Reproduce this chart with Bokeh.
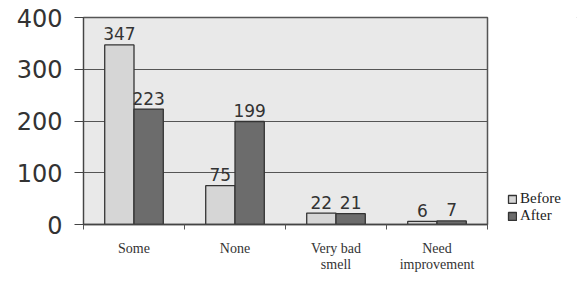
from bokeh.plotting import figure
from bokeh.layouts import row
from bokeh.models import ColumnDataSource, FixedTicker, Legend, LegendItem
from bokeh.core.properties import value
from bokeh.embed import file_html
from bokeh.resources import INLINE

categories = ["Some", "None", "Very bad\nsmell", "Need\nimprovement"]
before = [347, 75, 22, 6]
after = [223, 199, 21, 7]
series_names = ["Before", "After"]
y_ticks = [0, 100, 200, 300, 400]

before_fill = "#d6d6d6"
after_fill = "#6c6c6c"
bar_line = "#333333"

centers = [i + 0.5 for i in range(len(categories))]
bw = 0.29
src_b = ColumnDataSource(dict(x=[c - bw / 2 for c in centers], y=before, t=[str(v) for v in before]))
src_a = ColumnDataSource(dict(x=[c + bw / 2 for c in centers], y=after, t=[str(v) for v in after]))

p = figure(width=507, height=275, x_range=(0, 4), y_range=(0, 400),
           output_backend="svg", toolbar_location=None,
           min_border_left=83, min_border_top=17, min_border_right=20, min_border_bottom=43)
p.background_fill_color = "#e9e9e9"
p.border_fill_color = "white"
p.outline_line_color = "#555555"
p.outline_line_width = 1.5

p.vbar(x="x", top="y", width=bw, source=src_b, fill_color=before_fill, line_color=bar_line, line_width=1.3)
p.vbar(x="x", top="y", width=bw, source=src_a, fill_color=after_fill, line_color=bar_line, line_width=1.3)

for s in (src_b, src_a):
    p.text(x="x", y="y", text="t", source=s, text_align="center", text_baseline="alphabetic",
           y_offset=-11, text_font=value("DejaVu Sans"), text_font_size="17px", text_color="#333333")

p.xgrid.visible = False
p.ygrid.ticker = FixedTicker(ticks=y_ticks)
p.ygrid.grid_line_color = "#555555"
p.ygrid.grid_line_width = 1.2

p.yaxis.ticker = FixedTicker(ticks=y_ticks)
p.yaxis.major_label_text_font = "DejaVu Sans"
p.yaxis.major_label_text_font_size = "24px"
p.yaxis.major_label_text_color = "#333333"
p.yaxis.major_tick_out = 9
p.yaxis.major_tick_in = 0
p.yaxis.minor_tick_line_color = None
p.yaxis.axis_line_color = "#444444"
p.yaxis.major_tick_line_color = "#444444"
p.yaxis.major_label_standoff = 12

p.xaxis.ticker = FixedTicker(ticks=centers, minor_ticks=list(range(len(categories) + 1)))
p.xaxis.major_label_overrides = {c: lab for c, lab in zip(centers, categories)}
p.xaxis.major_tick_line_color = None
p.xaxis.major_tick_out = 0
p.xaxis.major_tick_in = 0
p.xaxis.minor_tick_out = 5
p.xaxis.minor_tick_in = 0
p.xaxis.minor_tick_line_color = "#555555"
p.xaxis.axis_line_color = "#444444"
p.xaxis.axis_line_width = 1.5
p.xaxis.major_label_text_font = "Liberation Serif"
p.xaxis.major_label_text_font_size = "14px"
p.xaxis.major_label_text_line_height = 1.1
p.xaxis.major_label_text_color = "#333333"
p.xaxis.major_label_standoff = 11

# legend panel (separate plot to the right)
q = figure(width=70, height=275, x_range=(0, 1), y_range=(0, 1),
           output_backend="svg", toolbar_location=None,
           x_axis_location=None, y_axis_location=None,
           min_border_left=0, min_border_right=0, min_border_top=0, min_border_bottom=0)
q.outline_line_color = None
q.background_fill_color = "white"
q.grid.visible = False
lb = q.vbar(x=[10], top=[10], bottom=[9], width=0.1, fill_color=before_fill, line_color=bar_line, line_width=1.3)
la = q.vbar(x=[10], top=[10], bottom=[9], width=0.1, fill_color=after_fill, line_color=bar_line, line_width=1.3)
legend = Legend(items=[LegendItem(label=value(series_names[0]), renderers=[lb]),
                       LegendItem(label=value(series_names[1]), renderers=[la])],
                location="bottom_left", border_line_color=None, background_fill_alpha=0,
                padding=0, spacing=0, margin=0, glyph_width=10, glyph_height=10,
                label_text_font="Liberation Serif", label_text_font_size="15px",
                label_height=14, label_standoff=3, label_text_color="#222222")
q.add_layout(legend, "center")

layout = row(p, q, spacing=0)
open("out.html", "w").write(file_html(layout, INLINE))
